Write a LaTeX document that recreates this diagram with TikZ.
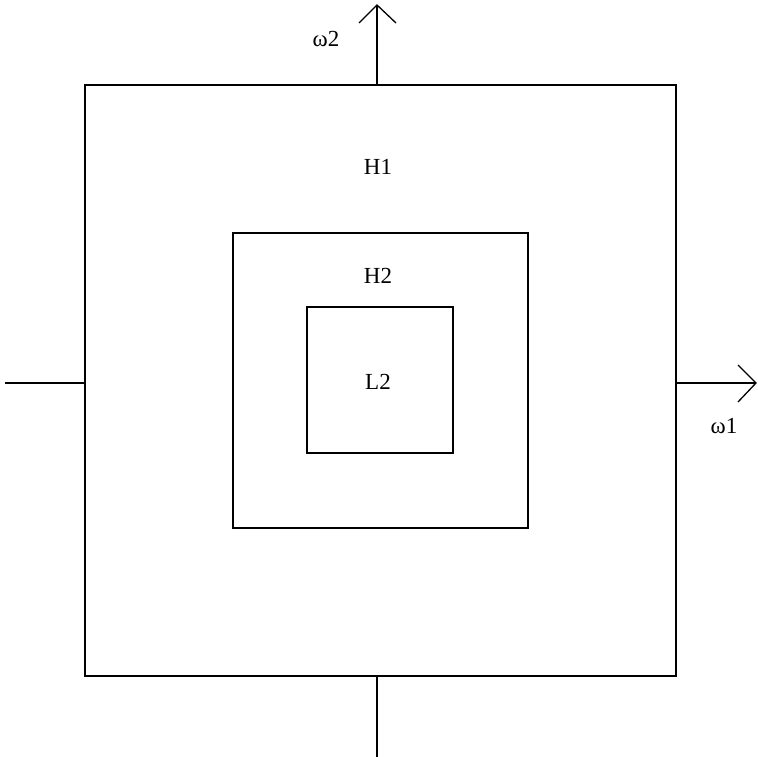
\documentclass[tikz,border=0pt]{standalone}
\usepackage{fontspec}
\setmainfont{Liberation Serif}
\begin{document}
\begin{tikzpicture}[x=1pt,y=-1pt,
  box/.style={draw=black,line width=1.3pt},
  axis/.style={draw=black,line width=1.3pt},
  lbl/.style={font=\fontsize{23}{26}\selectfont,inner sep=0pt},
  openv/.style={draw=black,line width=1.3pt}]
\useasboundingbox (0,0) rectangle (758,757);
\draw[box] (85,85) rectangle (676,676);
\draw[box] (233,233) rectangle (528,528);
\draw[box] (307,307) rectangle (453,453);
% axes
\coordinate (xl) at (5,383);
\coordinate (xin) at (85,383);
\coordinate (xout) at (676,383);
\coordinate (xtip) at (756,383);
\coordinate (yb) at (377,757);
\coordinate (ybin) at (377,676);
\coordinate (ytin) at (377,85);
\coordinate (ytip) at (377,5);
\draw[axis] (xl) -- (xin);
\draw[axis] (xout) -- (xtip);
\draw[axis] (yb) -- (ybin);
\draw[axis] (ytin) -- (ytip);
\draw[openv] (738,365) -- (xtip) -- (738,402);
\draw[openv] (359,23) -- (ytip) -- (396,23);
\node[lbl] (w2) at (326,39) {ω2};
\node[lbl] (w1) at (724,426) {ω1};
\node[lbl] (h1) at (378,167) {H1};
\node[lbl] (h2) at (378,276) {H2};
\node[lbl] (l2) at (378,382) {L2};
\end{tikzpicture}
\end{document}
